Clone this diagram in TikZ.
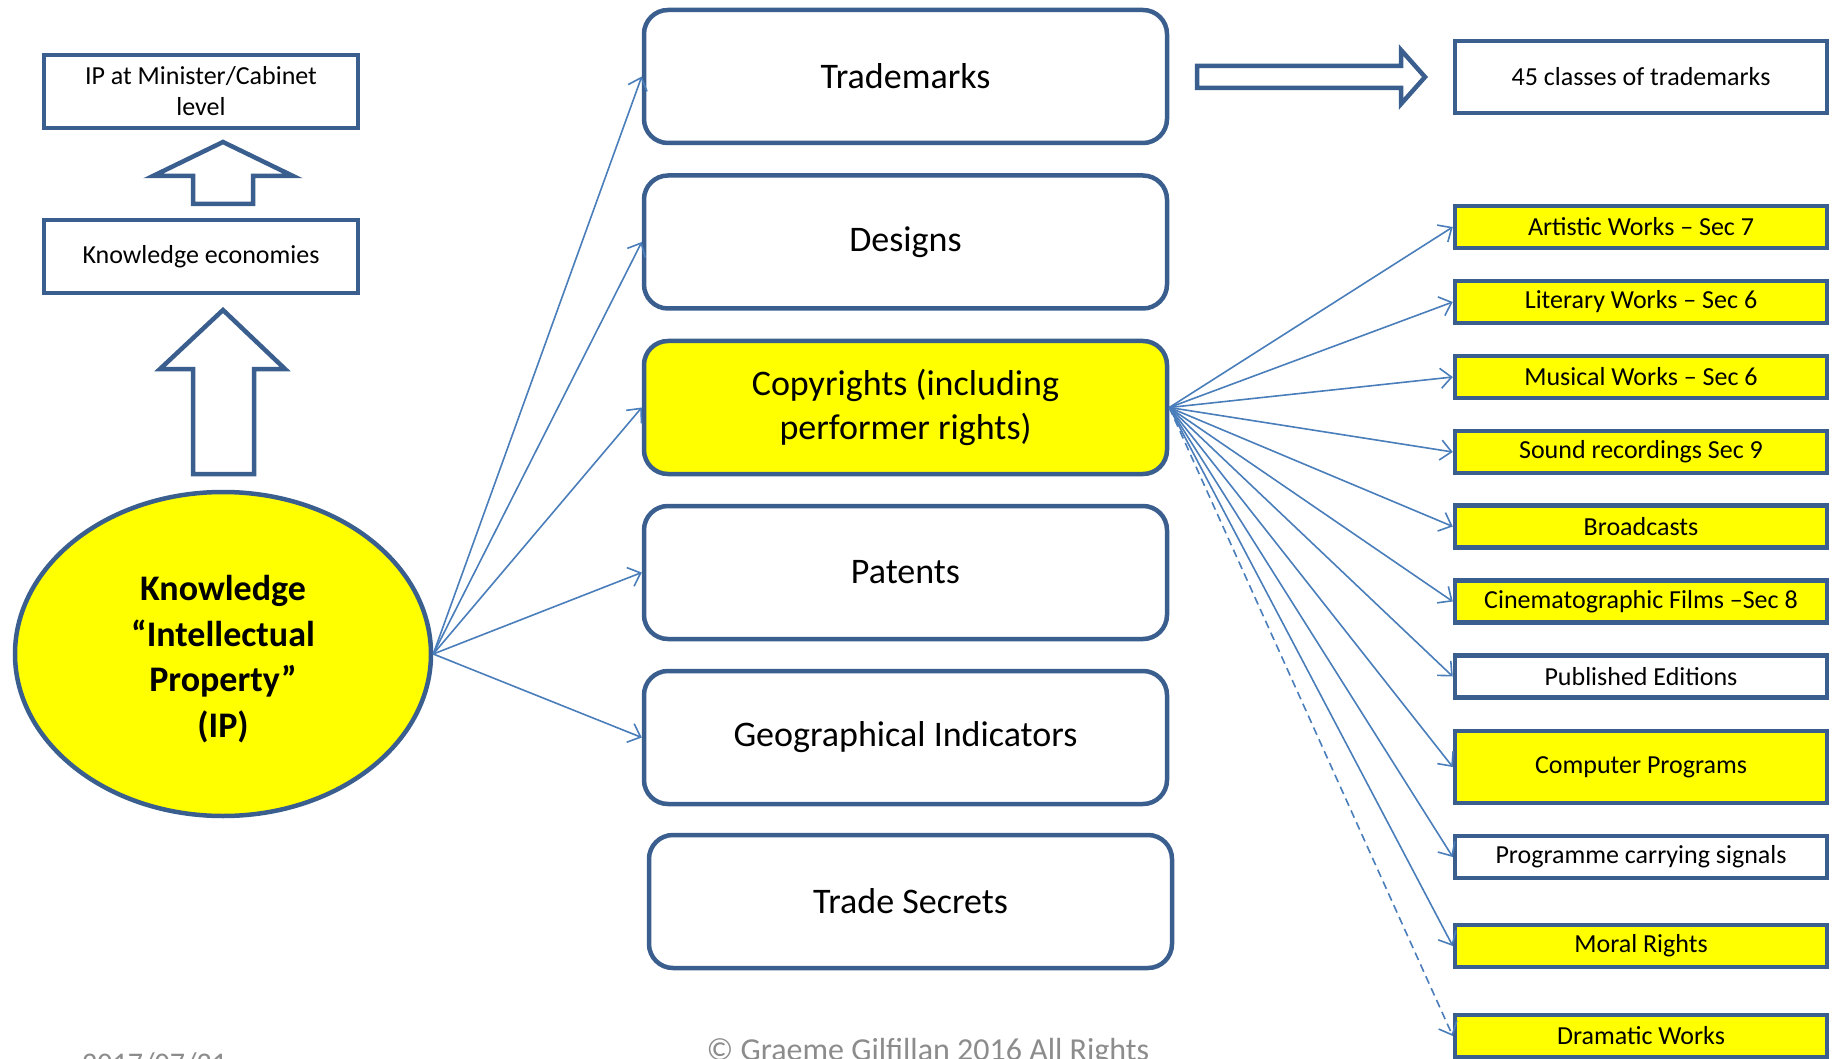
\documentclass[tikz,border=0pt]{standalone}
\usepackage{fontspec}
\setmainfont{Carlito}
\usetikzlibrary{arrows.meta,shapes.geometric}
\definecolor{bord}{HTML}{3A5F8F}
\definecolor{conn}{HTML}{4A7EBB}
\definecolor{yel}{HTML}{FFFF00}
\definecolor{greytxt}{HTML}{8C8C8C}
\begin{document}
\begin{tikzpicture}[x=1pt,y=-1pt,
  midbox/.style={draw=bord, line width=4.5pt, rounded corners=24pt, minimum width=523pt, minimum height=133pt, font=\fontsize{36}{44}\selectfont, align=center, inner sep=0pt, fill=white},
  rbox/.style={draw=bord, line width=4.5pt, minimum width=372pt, minimum height=42pt, font=\fontsize{26}{30}\selectfont, align=center, inner sep=0pt, fill=white},
  lbox/.style={draw=bord, line width=4.5pt, minimum width=314pt, minimum height=73pt, font=\fontsize{26}{31}\selectfont, align=center, inner sep=0pt, fill=white},
  blockarrow/.style={draw=bord, line width=4.5pt, fill=white, line join=miter},
  conn/.style={draw=conn, line width=1.6pt, -{Straight Barb[length=11pt,width=20pt,line width=1.6pt]}},
  hl/.style={fill=yel}
]
\useasboundingbox (0,0) rectangle (1837,1059);

% left column
\node[lbox] (min) at (201,91.5) {IP at Minister/Cabinet\\level};
\node[lbox] (ke) at (201,256.5) {Knowledge economies};
\draw[blockarrow] (223,142) -- (293,176) -- (253,176) -- (253,204) -- (193,204) -- (193,176) -- (153,176) -- cycle;
\draw[blockarrow] (223,310) -- (285,369) -- (254,369) -- (254,474) -- (193,474) -- (193,369) -- (160,369) -- cycle;
\node[draw=bord, line width=4.5pt, fill=yel, ellipse, minimum width=416pt, minimum height=324pt, inner sep=0pt, align=center, font=\bfseries\fontsize{36}{45.5}\selectfont] (ip) at (223,654) {\rule{0pt}{8pt}\\[-18pt]Knowledge\\“Intellectual\\Property”\\(IP)};

% middle column
\node[midbox] (tm) at (905.5,76.5) {Trademarks};
\node[midbox] (ds) at (905.5,242) {Designs};
\node[midbox, hl] (cr) at (905.5,407.5) {Copyrights (including\\performer rights)};
\node[midbox] (pt) at (905.5,572.5) {Patents};
\node[midbox] (gi) at (905.5,737.5) {Geographical Indicators};
\node[midbox] (ts) at (910.5,901.5) {Trade Secrets};

% right column
\node[rbox, minimum height=72pt] (cls) at (1641,77) {45 classes of trademarks};
\node[rbox, hl] (art) at (1641,227) {Artistic Works – Sec 7};
\node[rbox, hl] (lit) at (1641,302) {Literary Works – Sec 6};
\node[rbox, hl] (mus) at (1641,377) {Musical Works – Sec 6};
\node[rbox, hl] (snd) at (1641,452) {Sound recordings Sec 9};
\node[rbox, hl] (brd) at (1641,526.5) {Broadcasts};
\node[rbox, hl] (cin) at (1641,601.5) {Cinematographic Films –Sec 8};
\node[rbox] (pub) at (1641,676.5) {Published Editions};
\node[rbox, hl, minimum height=72pt] (cmp) at (1641,767) {Computer Programs};
\node[rbox] (prg) at (1641,857) {Programme carrying signals};
\node[rbox, hl] (mor) at (1641,946) {Moral Rights};
\node[rbox, hl] (dra) at (1641,1036) {Dramatic Works};

% block arrow trademarks -> classes
\draw[blockarrow] (1197,66) -- (1401,66) -- (1401,50) -- (1425,77) -- (1401,104) -- (1401,88) -- (1197,88) -- cycle;

% connectors from IP
\foreach \t in {tm,ds,cr,pt,gi} \draw[conn] (ip.east) -- (\t.west);

% connectors from copyrights
\foreach \t in {art,lit,mus,snd,brd,cin,pub,cmp,prg,mor} \draw[conn] (cr.east) -- (\t.west);
\draw[conn, dashed, dash pattern=on 8pt off 5pt] (cr.east) -- (dra.west);

% footer texts
\node[anchor=base, text=greytxt, font=\fontsize{32}{38}\selectfont, inner sep=0pt] (copy) at (928,1060) {© Graeme Gilfillan 2016 All Rights};
\node[anchor=base west, text=greytxt, font=\fontsize{30}{34}\selectfont, inner sep=0pt] (date) at (82,1073) {2017/07/21};
\end{tikzpicture}
\end{document}
